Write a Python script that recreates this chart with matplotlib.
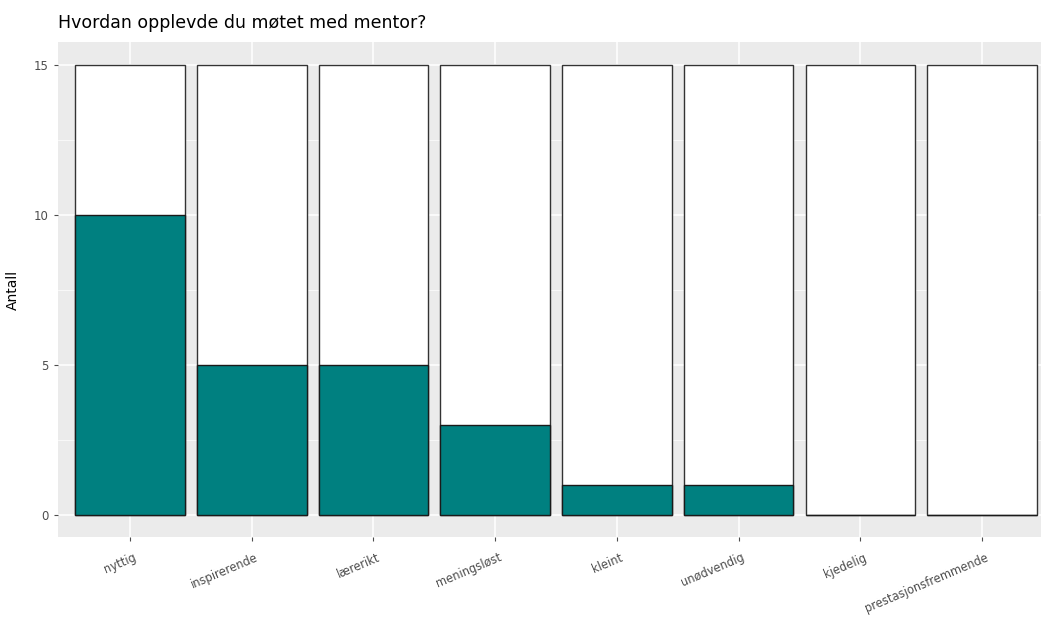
import matplotlib
matplotlib.use("Agg")
import matplotlib.pyplot as plt
import matplotlib.transforms as mtransforms
import numpy as np

categories = ["nyttig", "inspirerende", "lærerikt", "meningsløst", "kleint",
              "unødvendig", "kjedelig", "prestasjonsfremmende"]
values = [10, 5, 5, 3, 1, 1, 0, 0]
total = [15, 15, 15, 15, 15, 15, 15, 15]
yticks = [0, 5, 10, 15]

W, H = 1041, 617
fig = plt.figure(figsize=(W / 100, H / 100), dpi=100)
ax = fig.add_axes([58 / W, 1 - 537 / H, (1041 - 58) / W, (537 - 42) / H])
ax.set_facecolor("#EBEBEB")

x = np.arange(1, len(categories) + 1)
ax.set_xlim(0.408, 8.485)
ax.set_ylim(-0.75, 15.75)

# grid
for yv in [2.5, 7.5, 12.5]:
    ax.axhline(yv, color="white", lw=0.5, zorder=0)
for yv in yticks:
    ax.axhline(yv, color="white", lw=1.1, zorder=0)
for xv in x:
    ax.axvline(xv, color="white", lw=1.1, zorder=0)

ax.bar(x, total, width=0.9, color="white", edgecolor="#333333", linewidth=1.0, zorder=2)
ax.bar(x, values, width=0.9, color="#008080", edgecolor="#1a1a1a", linewidth=1.0, zorder=3)

for s in ax.spines.values():
    s.set_visible(False)

ax.set_yticks(yticks)
ax.set_yticklabels([str(v) for v in yticks], color="#4D4D4D", fontsize=8.5)
ax.set_xticks(x)
ax.set_xticklabels([])
ax.tick_params(axis="both", length=3, color="#4D4D4D", width=0.8)

trans = mtransforms.blended_transform_factory(ax.transData, ax.transAxes) + \
    mtransforms.ScaledTranslation(3 / 100, -14 / 100, fig.dpi_scale_trans)
for xi, lab in zip(x, categories):
    ax.text(xi, 0, lab, transform=trans, rotation=23, ha="right", va="top",
            rotation_mode="anchor", color="#4D4D4D", fontsize=8.3, clip_on=False)

ax.set_ylabel("Antall", fontsize=10, color="black", labelpad=10)

fig.text(58 / W, 1 - 23 / H, "Hvordan opplevde du møtet med mentor?",
         fontsize=12.5, color="black", ha="left", va="center")

fig.savefig("out.png", dpi=100)
